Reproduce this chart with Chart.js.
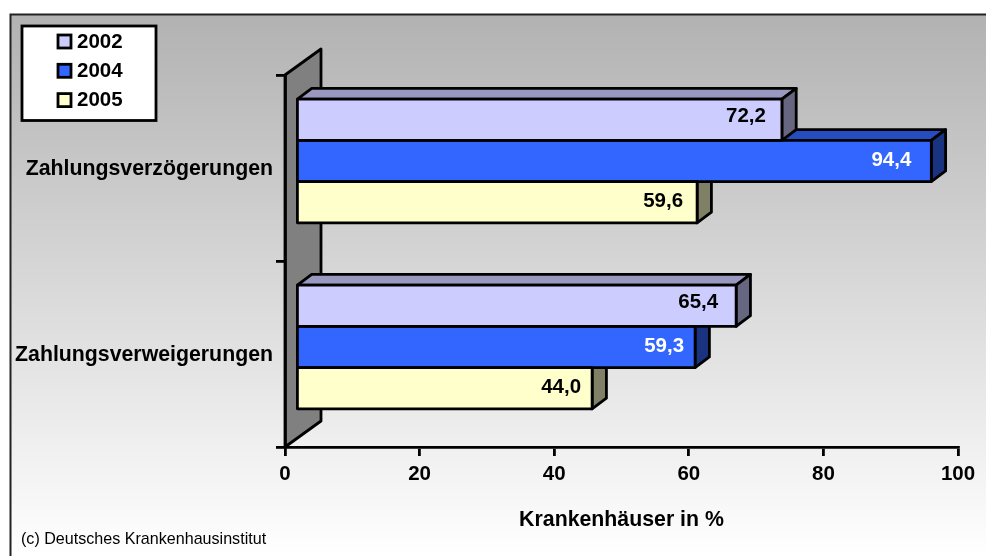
<!DOCTYPE html>
<html>
<head>
<meta charset="utf-8">
<style>
html, body { margin: 0; padding: 0; background: #fff; }
#wrap { width: 986px; height: 556px; }
</style>
<script src="https://cdn.jsdelivr.net/npm/chart.js@4"></script>
</head>
<body>
<div id="wrap"><canvas id="chart" width="986" height="556"></canvas></div>
<script>
const categories = ['Zahlungsverzögerungen', 'Zahlungsverweigerungen'];
const seriesNames = ['2002', '2004', '2005'];
const values2002 = [72.2, 65.4];
const values2004 = [94.4, 59.3];
const values2005 = [59.6, 44.0];
const colors = ['#ccccff', '#3366ff', '#ffffcc'];
const topColors = ['#9999c0', '#264dbf', '#bfbf99'];
const sideColors = ['#666680', '#1a3380', '#808066'];
const labelColors = ['#000', '#fff', '#000'];
// the value labels do not sit at one fixed distance from the bar end
const labelInsets = [[16, 18], [20, 11], [14, 11]];
const labelRaise = [3.5, 1, 0.5];

const font = 'Liberation Sans, Arial, sans-serif';
const lineW = 2.8;
// depth of the bars and of the side wall
const barDx = 11, barDy = -7, extrudeX = 14.3, extrudeY = -10.7;
const wallDx = 36, wallDy = -26;

function face(ctx, pts, fill) {
    ctx.beginPath();
    pts.forEach((p, i) => i ? ctx.lineTo(p[0], p[1]) : ctx.moveTo(p[0], p[1]));
    ctx.closePath();
    ctx.fillStyle = fill;
    ctx.fill();
    ctx.stroke();
}

const depthPlugin = {
    id: 'depth',
    beforeDraw(chart) {
        const ctx = chart.ctx;
        const a = chart.chartArea;
        ctx.save();
        // frame with the gray to white background, runs off the bottom and right
        const grad = ctx.createLinearGradient(0, 15, 0, 556);
        grad.addColorStop(0, '#b2b2b2');
        grad.addColorStop(1, '#ffffff');
        ctx.fillStyle = grad;
        ctx.fillRect(10, 14, 990, 560);
        ctx.strokeStyle = '#222';
        ctx.lineWidth = 2;
        ctx.strokeRect(10.5, 14.5, 990, 560);
        // side wall
        ctx.strokeStyle = '#000';
        ctx.lineWidth = lineW;
        ctx.lineJoin = 'round';
        face(ctx, [[a.left, a.top], [a.left + wallDx, a.top + wallDy],
            [a.left + wallDx, a.bottom + wallDy], [a.left, a.bottom]], '#808080');
        ctx.restore();
    },
    beforeDatasetsDraw(chart) {
        const ctx = chart.ctx;
        ctx.save();
        ctx.translate(barDx, barDy);
        ctx.strokeStyle = '#000';
        ctx.lineWidth = lineW;
        ctx.lineJoin = 'round';
        // lower bars first so the upper side faces lie on top
        for (let d = chart.data.datasets.length - 1; d >= 0; d--) {
            chart.getDatasetMeta(d).data.forEach(bar => {
                const top = bar.y - bar.height / 2, bottom = bar.y + bar.height / 2;
                face(ctx, [[bar.base, top], [bar.base + extrudeX, top + extrudeY],
                    [bar.x + extrudeX, top + extrudeY], [bar.x, top]], topColors[d]);
                face(ctx, [[bar.x, top], [bar.x + extrudeX, top + extrudeY],
                    [bar.x + extrudeX, bottom + extrudeY], [bar.x, bottom]], sideColors[d]);
            });
        }
    },
    afterDatasetsDraw(chart) {
        const ctx = chart.ctx;
        // outlines and value labels, still in the shifted front plane
        ctx.strokeStyle = '#000';
        ctx.lineWidth = lineW;
        chart.data.datasets.forEach((ds, d) => {
            chart.getDatasetMeta(d).data.forEach(bar => {
                ctx.strokeRect(bar.base, bar.y - bar.height / 2, bar.x - bar.base, bar.height);
            });
        });
        ctx.font = 'bold 20.5px ' + font;
        ctx.textAlign = 'right';
        ctx.textBaseline = 'middle';
        chart.data.datasets.forEach((ds, d) => {
            chart.getDatasetMeta(d).data.forEach((bar, i) => {
                ctx.fillStyle = labelColors[d];
                ctx.fillText(ds.data[i].toFixed(1).replace('.', ','), bar.x - labelInsets[d][i], bar.y - labelRaise[d]);
            });
        });
        ctx.restore();
    },
    afterDraw(chart) {
        const ctx = chart.ctx;
        ctx.save();
        // legend box
        ctx.fillStyle = '#fff';
        ctx.strokeStyle = '#000';
        ctx.lineWidth = lineW;
        ctx.fillRect(22, 26, 134, 94.5);
        ctx.strokeRect(22, 26, 134, 94.5);
        ctx.font = 'bold 20.5px ' + font;
        ctx.textAlign = 'left';
        ctx.textBaseline = 'middle';
        seriesNames.forEach((name, i) => {
            const y = 42 + i * 29.3;
            ctx.fillStyle = colors[i];
            ctx.fillRect(58, y - 7, 13, 13);
            ctx.strokeRect(58, y - 7, 13, 13);
            ctx.fillStyle = '#000';
            ctx.fillText(name, 77, y);
        });
        // source note
        ctx.font = '16.1px ' + font;
        ctx.fillText('(c) Deutsches Krankenhausinstitut', 21, 540);
        ctx.restore();
    }
};

new Chart(document.getElementById('chart'), {
    type: 'bar',
    data: {
        labels: categories,
        datasets: [
            { label: seriesNames[0], data: values2002, backgroundColor: colors[0] },
            { label: seriesNames[1], data: values2004, backgroundColor: colors[1] },
            { label: seriesNames[2], data: values2005, backgroundColor: colors[2] }
        ]
    },
    options: {
        indexAxis: 'y',
        responsive: false,
        animation: false,
        layout: { padding: { top: 75, right: 28, bottom: 0, left: 0 } },
        datasets: {
            bar: {
                categoryPercentage: 0.665,
                barPercentage: 1,
                borderWidth: 0,
                clip: false
            }
        },
        plugins: {
            legend: { display: false },
            tooltip: { enabled: false }
        },
        scales: {
            x: {
                min: 0,
                max: 100,
                afterFit(scale) { scale.height = 109; },
                grid: { drawOnChartArea: false, tickLength: 9, color: '#000', lineWidth: lineW },
                border: { color: '#000', width: lineW },
                ticks: {
                    stepSize: 20,
                    maxRotation: 0,
                    color: '#000',
                    padding: 6,
                    font: { family: font, size: 20.5, weight: 'bold' }
                },
                title: {
                    display: true,
                    text: 'Krankenhäuser in %',
                    color: '#000',
                    padding: { top: 24, bottom: 23 },
                    font: { family: font, size: 21.3, weight: 'bold' }
                }
            },
            y: {
                afterFit(scale) { scale.width = 285; },
                grid: { drawOnChartArea: false, tickLength: 9, color: '#000', lineWidth: lineW },
                border: { color: '#000', width: lineW },
                ticks: {
                    color: '#000',
                    padding: 3,
                    labelOffset: 1.5,
                    font: { family: font, size: 21.3, weight: 'bold' }
                }
            }
        }
    },
    plugins: [depthPlugin]
});
</script>
</body>
</html>
